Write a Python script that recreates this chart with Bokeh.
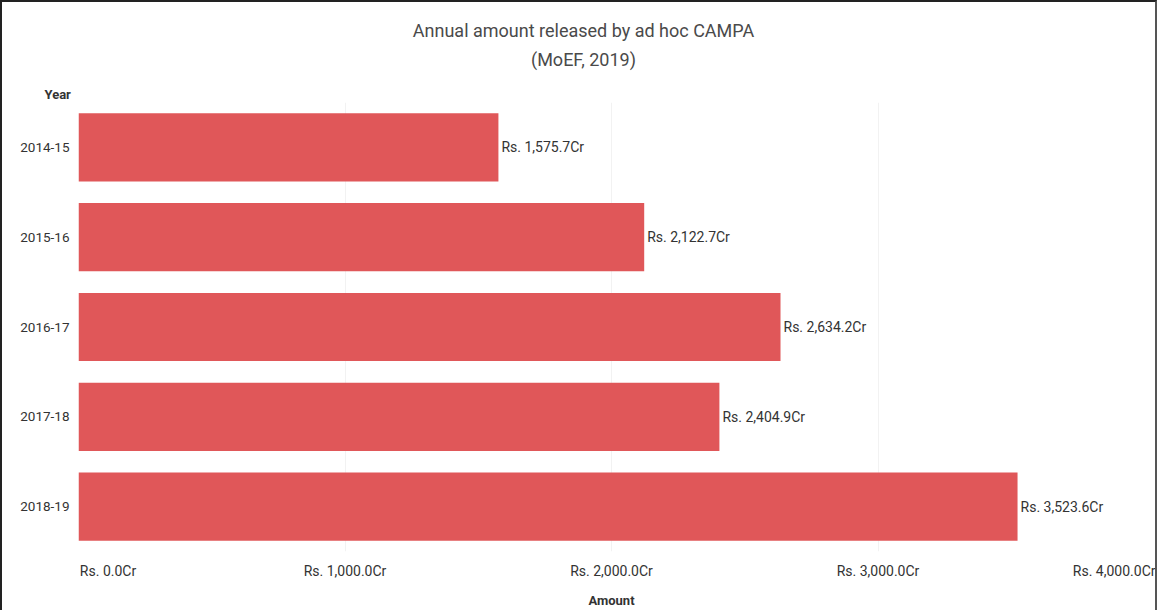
from bokeh.plotting import figure
from bokeh.models import ColumnDataSource, FactorRange, Range1d, FixedTicker, Title, Div
from bokeh.layouts import column
from bokeh.core.properties import value
from bokeh.embed import file_html
from bokeh.resources import INLINE

years = ["2014-15", "2015-16", "2016-17", "2017-18", "2018-19"]
amounts = [1575.7, 2122.7, 2634.2, 2404.9, 3523.6]
tick_values = [0, 1000, 2000, 3000, 4000]
tick_labels = ["Rs. 0.0Cr", "Rs. 1,000.0Cr", "Rs. 2,000.0Cr", "Rs. 3,000.0Cr", "Rs. 4,000.0Cr"]
title_line1 = "Annual amount released by ad hoc CAMPA"
title_line2 = "(MoEF, 2019)"

FONT = "Roboto"
TXT = "#333333"
BAR = "#e05759"
NB = "\u00a0"

labels_txt = ["Rs. {:,.1f}Cr".format(v) for v in amounts]
src = ColumnDataSource(dict(year=years, amount=amounts, label=labels_txt))

W = 1157          # outer width including the frame border
WF = W - 4        # inner width
p = figure(width=WF, height=533, output_backend="svg", toolbar_location=None,
           y_range=FactorRange(factors=list(reversed(years))),
           x_range=Range1d(0, 4000),
           min_border_left=76, min_border_right=WF - 76 - 1066, min_border_top=25, min_border_bottom=57)
p.outline_line_color = None
p.background_fill_color = "white"
p.border_fill_color = "white"

p.hbar(y="year", right="amount", left=0, height=0.76, source=src,
       fill_color=BAR, line_color=None)
p.text(x="amount", y="year", text="label", source=src, x_offset=3,
       text_align="left", text_baseline="middle", text_font=value(FONT),
       text_font_size="14px", text_color=TXT)

# grid
p.ygrid.grid_line_color = None
p.xgrid.grid_line_color = "#f2f2f2"
p.xgrid.ticker = FixedTicker(ticks=tick_values)

# x axis (first label padded so it starts at the bar origin like the original)
xa = p.xaxis[0]
xa.ticker = FixedTicker(ticks=tick_values)
xa.major_label_overrides = {
    0: NB * 17 + tick_labels[0],
    1000: tick_labels[1],
    2000: tick_labels[2],
    3000: tick_labels[3],
    4000: tick_labels[4],
}
xa.axis_line_color = None
xa.major_tick_line_color = None
xa.minor_tick_line_color = None
xa.major_tick_out = 0
xa.major_tick_in = 0
xa.minor_tick_out = 0
xa.major_label_text_font = FONT
xa.major_label_text_font_size = "14px"
xa.major_label_text_color = TXT
xa.major_label_standoff = 11
xa.axis_label = "Amount"
xa.axis_label_text_font = FONT
xa.axis_label_text_font_size = "13px"
xa.axis_label_text_font_style = "bold"
xa.axis_label_text_color = TXT
xa.axis_label_standoff = 11

# y axis
ya = p.yaxis[0]
ya.axis_line_color = None
ya.major_tick_line_color = None
ya.minor_tick_line_color = None
ya.major_tick_out = 0
ya.major_tick_in = 0
ya.minor_tick_out = 0
ya.major_label_text_font = FONT
ya.major_label_text_font_size = "13.5px"
ya.major_label_text_color = TXT
ya.major_label_standoff = 9

# "Year" header above the category axis
p.title = Title(text="Year", align="left", offset=-34, standoff=2,
                text_font=FONT, text_font_size="13px", text_font_style="bold",
                text_color=TXT)

title_div = Div(
    text=('<div style="width:%dpx;padding-left:9px;padding-top:9px;text-align:center;'
          'font-family:Roboto;font-size:18px;line-height:29px;color:#4a4a4a;">' % (WF - 9)
          + title_line1 + "<br>" + title_line2 + "</div>"),
    width=WF, height=65)

layout = column(title_div, p, spacing=0, width=W, sizing_mode="fixed")
layout.styles = {"border-top": "2px solid #222", "border-left": "2px solid #222",
                 "border-right": "2px solid #555", "background": "white"}

open("out.html", "w").write(file_html(layout, INLINE))
